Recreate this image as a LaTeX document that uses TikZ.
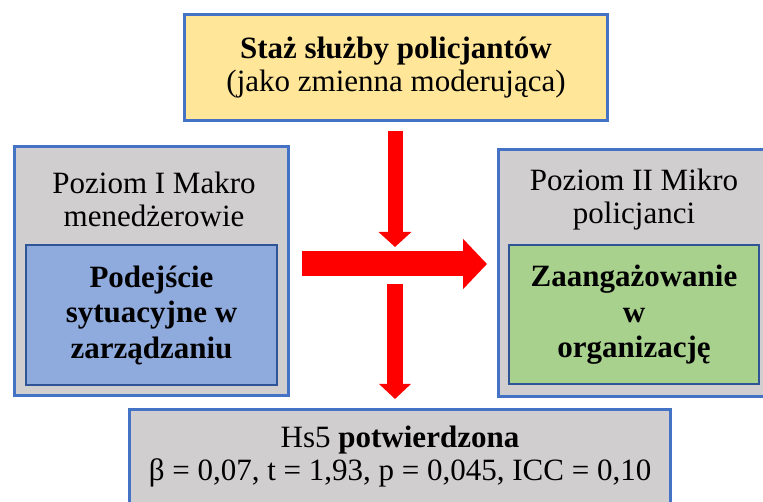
\documentclass[tikz,border=0pt]{standalone}
\usepackage{fontspec}
\setmainfont{Liberation Serif}
\usetikzlibrary{positioning,arrows.meta}

\definecolor{ramka}{HTML}{4472C4}
\definecolor{ramkaciemna}{HTML}{2F5597}
\definecolor{zolty}{HTML}{FFE699}
\definecolor{szary}{HTML}{D0CECE}
\definecolor{niebieski}{HTML}{8FAADC}
\definecolor{zielony}{HTML}{A9D18E}
\definecolor{czerwony}{HTML}{FF0000}

\begin{document}
\begin{tikzpicture}[x=1pt, y=-1pt,
        every node/.style={font=\fontsize{31}{33}\selectfont, align=center, inner sep=0pt},
        box/.style={draw=ramka, line width=3pt},
        innerbox/.style={draw=ramkaciemna, line width=2pt, font=\fontsize{31}{35.5}\selectfont\bfseries},
        bigarrow/.style={draw=czerwony}]
     \clip (0,0) rectangle (763,502);
     % gorna ramka
     \node[box, fill=zolty, minimum width=423pt, minimum height=106pt] (staz) at (396,67.5)
        {\textbf{Staż służby policjantów}\\(jako zmienna moderująca)};
     % poziom I
     \node[box, fill=szary, minimum width=274pt, minimum height=249pt] (makro) at (151.5,271) {};
     \node (makrotytul) at (154,199) {Poziom I Makro\\menedżerowie};
     \node[innerbox, fill=niebieski, minimum width=251pt, minimum height=140pt] (podejscie) at (151.5,315)
        {Podejście\\sytuacyjne w\\zarządzaniu};
     % poziom II
     \node[box, fill=szary, minimum width=266pt, minimum height=247pt] (mikro) at (631.5,273) {};
     \node (mikrotytul) at (634,200) {Poziom II Mikro\\policjanci};
     \node[innerbox, fill=zielony, minimum width=250pt, minimum height=139pt] (zaangazowanie) at (634,315)
        {Zaangażowanie\\w\\organizację};
     % wynik
     \node[box, fill=szary, minimum width=541pt, minimum height=95pt] (hs) at (400,457)
        {Hs5 \textbf{potwierdzona}\\β = 0,07, t = 1,93, p = 0,045, ICC = 0,10};
     % strzalki
     \coordinate (cross) at (395,264);
     \draw[bigarrow, line width=15pt, -{Triangle[width=32pt,length=15pt]},
        shorten <=9pt, shorten >=17pt] (staz.south -| cross) -- (cross);
     \draw[bigarrow, line width=25pt, -{Triangle[width=49pt,length=24pt]},
        shorten <=12pt, shorten >=10pt] (makro.east |- cross) -- (mikro.west |- cross);
     \draw[bigarrow, line width=16pt, -{Triangle[width=31pt,length=15pt]},
        shorten <=20pt, shorten >=9pt] (cross) -- (cross |- hs.north);
\end{tikzpicture}
\end{document}
